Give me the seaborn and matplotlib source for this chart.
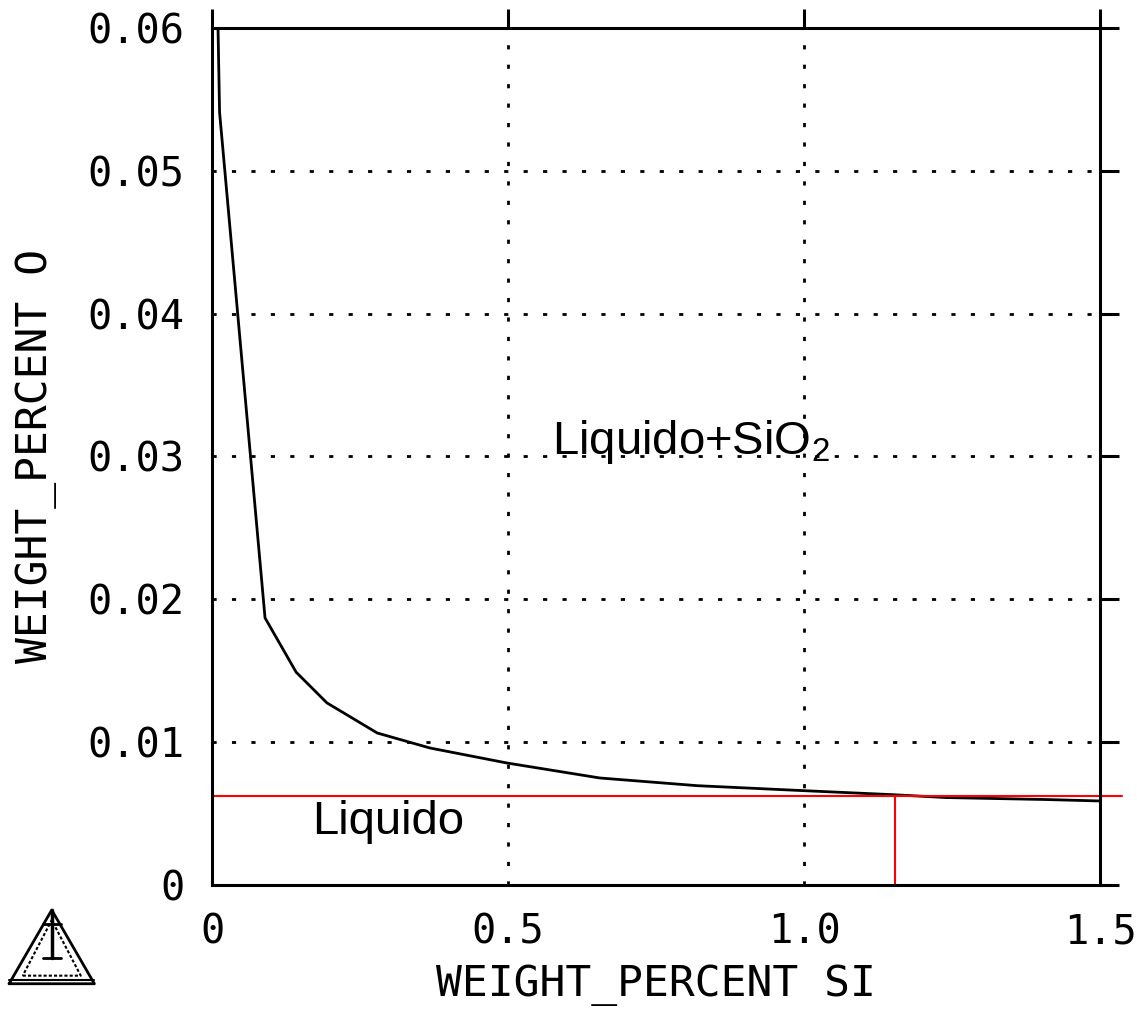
import matplotlib
matplotlib.use("Agg")
import matplotlib.pyplot as plt
import seaborn as sns
import pandas as pd
from matplotlib.lines import Line2D

# ---- data ----
curve_si = [0.0101, 0.0127, 0.0895, 0.142, 0.194, 0.279, 0.368, 0.498, 0.655,
            0.82, 0.99, 1.15, 1.24, 1.41, 1.50]
curve_o = [0.0600, 0.0541, 0.0187, 0.0149, 0.01275, 0.01064, 0.00959, 0.00854,
           0.00749, 0.00695, 0.00662, 0.00632, 0.00612, 0.00598, 0.00588]
red_h_si = [0.0, 1.537]
red_h_o = [0.00625, 0.00625]
red_v_si = [1.154, 1.154]
red_v_o = [0.0, 0.00625]
x_ticks = [0, 0.5, 1.0, 1.5]
x_labels = ["0", "0.5", "1.0", "1.5"]
y_ticks = [0, 0.01, 0.02, 0.03, 0.04, 0.05, 0.06]
y_labels = ["0", "0.01", "0.02", "0.03", "0.04", "0.05", "0.06"]

sns.set_style("white")
plt.rcParams['font.family'] = ['DejaVu Sans Mono', 'DejaVu Sans']
plt.rcParams['mathtext.fontset'] = 'custom'
plt.rcParams['mathtext.rm'] = 'Liberation Sans'
plt.rcParams['text.color'] = 'black'
plt.rcParams['axes.labelcolor'] = 'black'
plt.rcParams['xtick.color'] = 'black'
plt.rcParams['ytick.color'] = 'black'

fig = plt.figure(figsize=(11.37, 10.10), dpi=100)
ax = fig.add_axes([0.1865, 0.1238, 0.781, 0.8485])

df_curve = pd.DataFrame({"si": curve_si, "o": curve_o})
sns.lineplot(data=df_curve, x="si", y="o", sort=False, estimator=None,
             color="black", lw=2.0, ax=ax)
df_h = pd.DataFrame({"si": red_h_si, "o": red_h_o})
sns.lineplot(data=df_h, x="si", y="o", sort=False, estimator=None,
             color="red", lw=1.5, ax=ax, clip_on=False)
df_v = pd.DataFrame({"si": red_v_si, "o": red_v_o})
sns.lineplot(data=df_v, x="si", y="o", sort=False, estimator=None,
             color="red", lw=1.5, ax=ax)

ax.set_xlim(0, 1.5)
ax.set_ylim(0, 0.06)
ax.set_xticks(x_ticks)
ax.set_xticklabels(x_labels)
ax.set_yticks(y_ticks)
ax.set_yticklabels(y_labels)

for s in ax.spines.values():
    s.set_color("black")
    s.set_linewidth(2.2)
    s.set_visible(True)

ax.tick_params(axis="both", which="major", direction="out", length=14, width=2.2,
               color="black", labelcolor="black", labelsize=29, top=True, right=True, pad=6)

ax.grid(True, color="black", lw=2.0, linestyle=(0, (1.5, 5.5)))
ax.xaxis.get_gridlines()[0].set_visible(False)
ax.xaxis.get_gridlines()[-1].set_visible(False)
ax.yaxis.get_gridlines()[0].set_visible(False)
ax.yaxis.get_gridlines()[-1].set_visible(False)

ax.set_xlabel("WEIGHT_PERCENT SI", fontsize=31, labelpad=8, color="black")
ax.set_ylabel("WEIGHT_PERCENT O", fontsize=31, labelpad=22, color="black")

ax.text(0.574, 0.031, "Liquido+SiO$_2$", fontsize=34, family="Liberation Sans",
        ha="left", va="center", color="black")
ax.text(0.169, 0.0044, "Liquido", fontsize=34, family="Liberation Sans",
        ha="left", va="center", color="black")

# Thermo-Calc style logo (decoration)
lx0, lx1 = 0.008, 0.083
ly0, ly1 = 0.026, 0.099
mx = (lx0 + lx1) / 2
tri = [(lx0, ly0), (lx1, ly0), (mx, ly1), (lx0, ly0)]
fig.add_artist(Line2D([p[0] for p in tri], [p[1] for p in tri], color="black", lw=2.0,
                      transform=fig.transFigure))
fig.add_artist(Line2D([lx0, lx1], [ly0 + 0.004, ly0 + 0.004], color="black", lw=1.5,
                      transform=fig.transFigure))
inner = [(lx0 + 0.012, ly0 + 0.008), (lx1 - 0.012, ly0 + 0.008), (mx, ly1 - 0.010),
         (lx0 + 0.012, ly0 + 0.008)]
fig.add_artist(Line2D([p[0] for p in inner], [p[1] for p in inner], color="black", lw=1.5,
                      transform=fig.transFigure, linestyle=(0, (1.5, 1.0))))
fig.add_artist(Line2D([mx, mx], [ly0 + 0.025, ly1], color="black", lw=2.5,
                      transform=fig.transFigure))
fig.add_artist(Line2D([mx - 0.008, mx + 0.008], [ly1 - 0.014, ly1 - 0.014], color="black",
                      lw=2.0, transform=fig.transFigure))
fig.add_artist(Line2D([mx - 0.008, mx + 0.008], [ly0 + 0.025, ly0 + 0.025], color="black",
                      lw=2.0, transform=fig.transFigure))

fig.savefig("out.png", dpi=100)
